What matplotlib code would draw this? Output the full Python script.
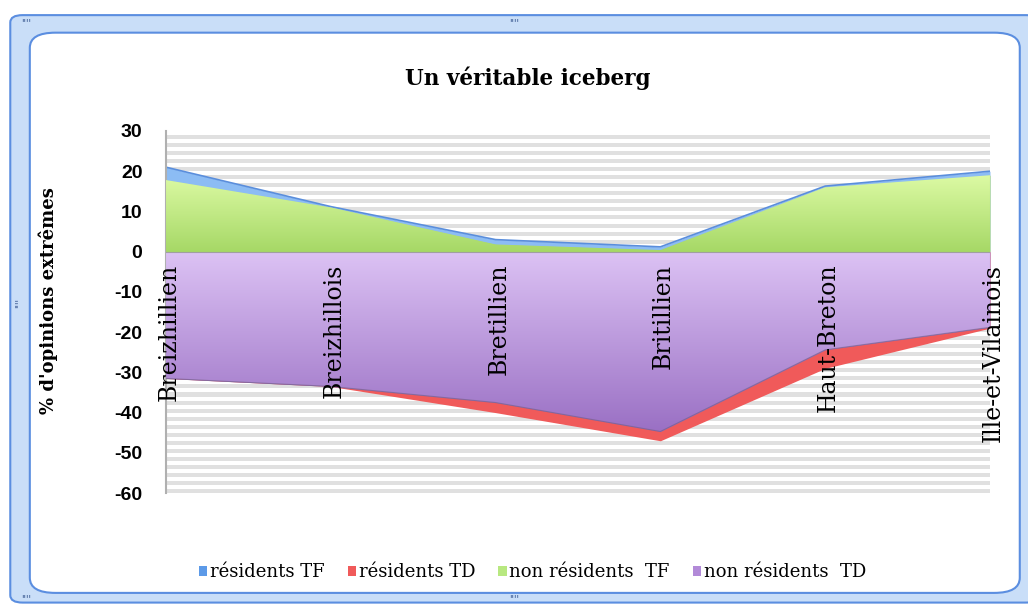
import numpy as np
import matplotlib.pyplot as plt
from matplotlib.patches import FancyBboxPatch
from matplotlib.colors import LinearSegmentedColormap

# =============================
#  Data
# =============================
categories = ["Breizhillien", "Breizhillois", "Bretillien", "Britillien",
              "Haut-Breton", "Ille-et-Vilainois"]
residents_tf = [21.0, 11.2, 3.0, 1.2, 16.3, 20.0]
residents_td = [-31.5, -33.5, -40.0, -47.0, -29.0, -19.0]
non_residents_tf = [17.8, 11.0, 1.8, 0.4, 16.0, 19.0]
non_residents_td = [-31.5, -33.5, -37.5, -44.7, -24.4, -18.8]
y_ticks = [30, 20, 10, 0, -10, -20, -30, -40, -50, -60]

col_blue = "#8cbcf4"
col_red = "#f05a5a"
col_green_top, col_green_bot = "#dcfaa4", "#a6d866"
col_purple_top, col_purple_bot = "#dcc2f4", "#9a70c4"

plt.rcParams.update({"font.family": "serif",
                     "font.serif": ["DejaVu Serif", "Liberation Serif"]})

fig = plt.figure(figsize=(10.28, 6.05), dpi=100)

# --- Excel-like selection frame ---
fig.patches.append(FancyBboxPatch((0.010, 0.004), 1.0, 0.971,
                                  boxstyle="round,pad=0,rounding_size=0.012",
                                  transform=fig.transFigure, facecolor="#c9def8",
                                  edgecolor="#5b8ee0", linewidth=1.5, zorder=-2))
fig.patches.append(FancyBboxPatch((0.029, 0.020), 0.963, 0.926,
                                  boxstyle="round,pad=0,rounding_size=0.025",
                                  transform=fig.transFigure, facecolor="white",
                                  edgecolor="#5b8ee0", linewidth=1.5, zorder=-1))
for hx, hy, rot in [(0.50, 0.962, 0), (0.50, 0.010, 0), (0.019, 0.50, 90),
                    (0.025, 0.962, 0), (0.025, 0.010, 0)]:
    fig.text(hx, hy, "''''", ha="center", va="center", fontsize=7,
             color="#30508a", rotation=rot, family="DejaVu Sans")

ax = fig.add_axes([0.1615, 0.185, 0.8015, 0.5985])
ax.patch.set_alpha(0)
x = np.arange(len(categories))

# --- striped background ---
for yy in np.arange(-60, 30, 2.0):
    ax.axhspan(yy, yy + 1.0, color="#e0e0e0", lw=0, zorder=0)


def gradient_fill(y, top, bot, z):
    poly = ax.fill_between(x, 0, y, color=bot, lw=0, zorder=z)
    cmap = LinearSegmentedColormap.from_list("g", [bot, top])
    grad = np.linspace(0, 1, 256).reshape(-1, 1)
    ymin, ymax = min(0, min(y)), max(0, max(y))
    im = ax.imshow(grad, extent=[0, len(x) - 1, ymin, ymax], origin="lower",
                   aspect="auto", cmap=cmap, zorder=z + 0.1)
    im.set_clip_path(poly.get_paths()[0], transform=ax.transData)
    return poly


# series drawn in order, later ones in front
ax.fill_between(x, 0, residents_tf, color=col_blue, lw=0, zorder=2)
ax.plot(x, residents_tf, color="#5a8edc", lw=1.2, zorder=2.2)
ax.fill_between(x, 0, residents_td, color=col_red, lw=0, zorder=2)
gradient_fill(non_residents_tf, col_green_top, col_green_bot, 3)
gradient_fill(non_residents_td, col_purple_top, col_purple_bot, 3)
ax.plot(x, non_residents_td, color="#6a5a78", lw=0.8, alpha=0.5, zorder=3.5)
ax.axhline(0, color="#a0a0a0", lw=0.8, zorder=4)

# legend handles
for lab, c in [("résidents TF", "#5c9ae8"), ("résidents TD", col_red),
               ("non résidents  TF", "#b8e880"), ("non résidents  TD", "#b28ad8")]:
    ax.bar([0], [0], color=c, label=lab)

# category labels inside the plot
for i, name in enumerate(categories):
    ax.text(i + 0.02, -3.0, name, rotation=90, ha="center", va="top",
            fontsize=17, color="black", zorder=6)

ax.set_xlim(0, len(x) - 1)
ax.set_ylim(-60, 30)
ax.set_yticks(y_ticks)
ax.set_yticklabels([str(t) for t in y_ticks], fontsize=14, fontweight="bold",
                   family="Liberation Sans")
ax.set_xticks([])
ax.tick_params(axis="y", length=0, pad=17)
for s in ["top", "right", "bottom"]:
    ax.spines[s].set_visible(False)
ax.spines["left"].set_color("#b0b0b0")
ax.spines["left"].set_linewidth(1.5)
ax.set_ylabel("% d'opinions extrêmes", fontsize=13, fontweight="bold")
ax.yaxis.set_label_coords(-0.131, 0.533)

fig.text(0.513, 0.871, "Un véritable iceberg", ha="center", va="center",
         fontsize=15.5, fontweight="bold")

leg = fig.legend(loc="center", bbox_to_anchor=(0.518, 0.054), ncol=4,
                 frameon=False, fontsize=13, handlelength=0.45, handleheight=0.45,
                 handletextpad=0.15, columnspacing=1.3)

fig.savefig("out.png", dpi=100)
